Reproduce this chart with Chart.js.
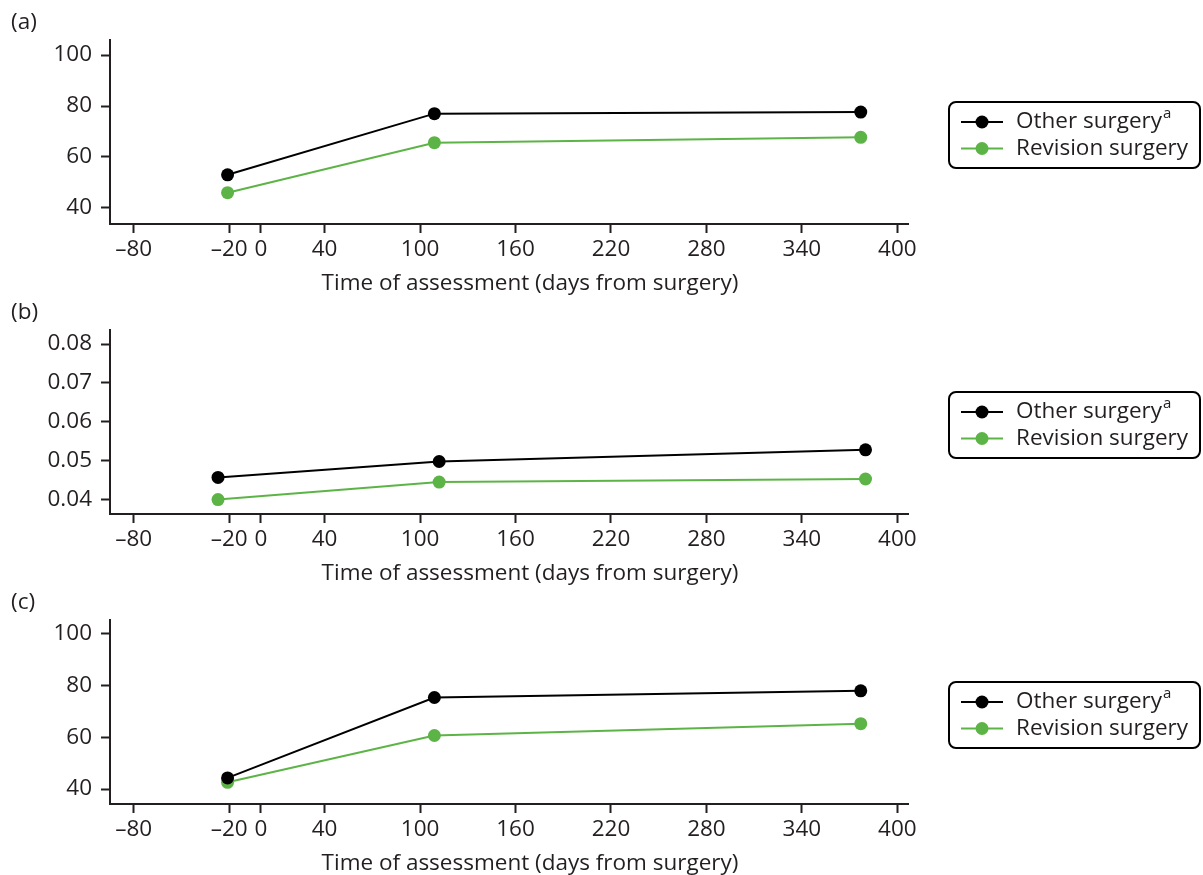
<!DOCTYPE html>
<html>
<head>
<meta charset="utf-8">
<script src="https://cdn.jsdelivr.net/npm/chart.js@4/dist/chart.umd.min.js"></script>
<style>
  html, body { margin: 0; padding: 0; background: #ffffff; }
  #wrap { position: relative; width: 1203px; height: 875px; overflow: hidden; }
  canvas { position: absolute; left: 0; }
</style>
</head>
<body>
<div id="wrap">
  <canvas id="chartA" width="1203" height="295" style="top:0px"></canvas>
  <canvas id="chartB" width="1203" height="295" style="top:290px"></canvas>
  <canvas id="chartC" width="1203" height="295" style="top:580px"></canvas>
</div>
<script>
// ---------- data ----------
const xTickValues = [-80, -20, 0, 40, 100, 160, 220, 280, 340, 400];
const xTickLabels = ['\u201380', '\u201320', '0', '40', '100', '160', '220', '280', '340', '400'];
const xTitle = 'Time of assessment (days from surgery)';

const seriesNames = ['Other surgery', 'Revision surgery'];
const seriesMarks = ['a', ''];

const panelLabels = ['(a)', '(b)', '(c)'];

// panel (a)
const daysA = [-21, 109, 377];
const otherA = [53.0, 77.0, 77.6];
const revisionA = [46.0, 65.6, 67.7];
const yTicksA = [40, 60, 80, 100];
const yLabelsA = ['40', '60', '80', '100'];

// panel (b)
const daysB = [-27, 112, 380];
const otherB = [0.0457, 0.0498, 0.0528];
const revisionB = [0.0400, 0.0445, 0.0453];
const yTicksB = [0.04, 0.05, 0.06, 0.07, 0.08];
const yLabelsB = ['0.04', '0.05', '0.06', '0.07', '0.08'];

// panel (c)
const daysC = [-21, 109, 377];
const otherC = [44.3, 75.4, 78.0];
const revisionC = [42.6, 60.7, 65.3];
const yTicksC = [40, 60, 80, 100];
const yLabelsC = ['40', '60', '80', '100'];

// ---------- styling ----------
const FONT = '"Open Sans", "Noto Sans", "DejaVu Sans", sans-serif';
const FS = 22.5;
const TEXT = '#231f20';
const BLACK = '#000000';
const GREEN = '#5db446';

function pts(xs, ys) { return xs.map((x, i) => ({ x: x, y: ys[i] })); }

const decorPlugin = {
  id: 'decor',
  afterDraw(chart, args, opts) {
    const ctx = chart.ctx;
    const area = chart.chartArea;
    ctx.save();
    // panel label
    ctx.fillStyle = TEXT;
    ctx.font = FS + 'px ' + FONT;
    ctx.textAlign = 'left';
    ctx.textBaseline = 'middle';
    ctx.fillText(opts.panel, 11, 23);
    // x-axis title
    ctx.textAlign = 'center';
    ctx.fillText(xTitle, 530, 284);
    // legend box
    const bx = 949, bw = 251, bh = 66;
    const cy = (area.top + area.bottom) / 2 + 3;
    const by = cy - bh / 2;
    ctx.beginPath();
    ctx.roundRect(bx, by, bw, bh, 7);
    ctx.lineWidth = 2;
    ctx.strokeStyle = BLACK;
    ctx.stroke();
    chart.data.datasets.forEach((ds, i) => {
      const ry = by + 20 + i * 26.5;
      ctx.beginPath();
      ctx.moveTo(961, ry);
      ctx.lineTo(1003, ry);
      ctx.lineWidth = 2;
      ctx.strokeStyle = ds.borderColor;
      ctx.stroke();
      ctx.beginPath();
      ctx.arc(982, ry, 6.5, 0, Math.PI * 2);
      ctx.fillStyle = ds.backgroundColor;
      ctx.fill();
      ctx.fillStyle = TEXT;
      ctx.font = FS + 'px ' + FONT;
      ctx.textAlign = 'left';
      ctx.textBaseline = 'middle';
      ctx.fillText(ds.label, 1016, ry);
      const mark = seriesMarks[i];
      if (mark) {
        const w = ctx.measureText(ds.label).width;
        ctx.font = '15px ' + FONT;
        ctx.fillText(mark, 1016 + w + 1, ry - 8);
      }
    });
    ctx.restore();
  }
};

function makeChart(id, label, days, other, revision, yMin, yMax, yTicks, yLabels) {
  new Chart(document.getElementById(id), {
    type: 'line',
    data: {
      datasets: [
        { label: seriesNames[0], data: pts(days, other), borderColor: BLACK, backgroundColor: BLACK,
          borderWidth: 2, pointRadius: 6.5, pointBorderWidth: 0, pointBackgroundColor: BLACK, tension: 0 },
        { label: seriesNames[1], data: pts(days, revision), borderColor: GREEN, backgroundColor: GREEN,
          borderWidth: 2, pointRadius: 6.5, pointBorderWidth: 0, pointBackgroundColor: GREEN, tension: 0 }
      ]
    },
    options: {
      responsive: false,
      animation: false,
      events: [],
      layout: { padding: { top: 40, left: 0, right: 295, bottom: 0 } },
      plugins: { legend: { display: false }, tooltip: { enabled: false }, decor: { panel: label } },
      scales: {
        x: {
          type: 'linear',
          min: -94.9, max: 406.7,
          afterBuildTicks: s => { s.ticks = xTickValues.map(v => ({ value: v })); },
          afterFit: s => { s.height = 71; },
          border: { display: true, color: TEXT, width: 2 },
          grid: { display: true, drawOnChartArea: false, drawTicks: true, tickLength: 9, tickWidth: 2, tickColor: TEXT },
          ticks: { autoSkip: false, maxRotation: 0, padding: 3, color: TEXT, font: { family: FONT, size: FS },
                   callback: (v, i) => xTickLabels[i] }
        },
        y: {
          type: 'linear',
          min: yMin, max: yMax,
          afterBuildTicks: s => { s.ticks = yTicks.map(v => ({ value: v })); },
          afterFit: s => { s.width = 110; },
          border: { display: true, color: TEXT, width: 2 },
          grid: { display: true, drawOnChartArea: false, drawTicks: true, tickLength: 9, tickWidth: 2, tickColor: TEXT },
          ticks: { autoSkip: false, padding: 9, color: TEXT, font: { family: FONT, size: FS },
                   callback: (v, i) => yLabels[i] }
        }
      }
    },
    plugins: [decorPlugin]
  });
}

makeChart('chartA', panelLabels[0], daysA, otherA, revisionA, 33.7, 105.9, yTicksA, yLabelsA);
makeChart('chartB', panelLabels[1], daysB, otherB, revisionB, 0.0363, 0.0836, yTicksB, yLabelsB);
makeChart('chartC', panelLabels[2], daysC, otherC, revisionC, 34.2, 105.4, yTicksC, yLabelsC);
</script>
</body>
</html>
